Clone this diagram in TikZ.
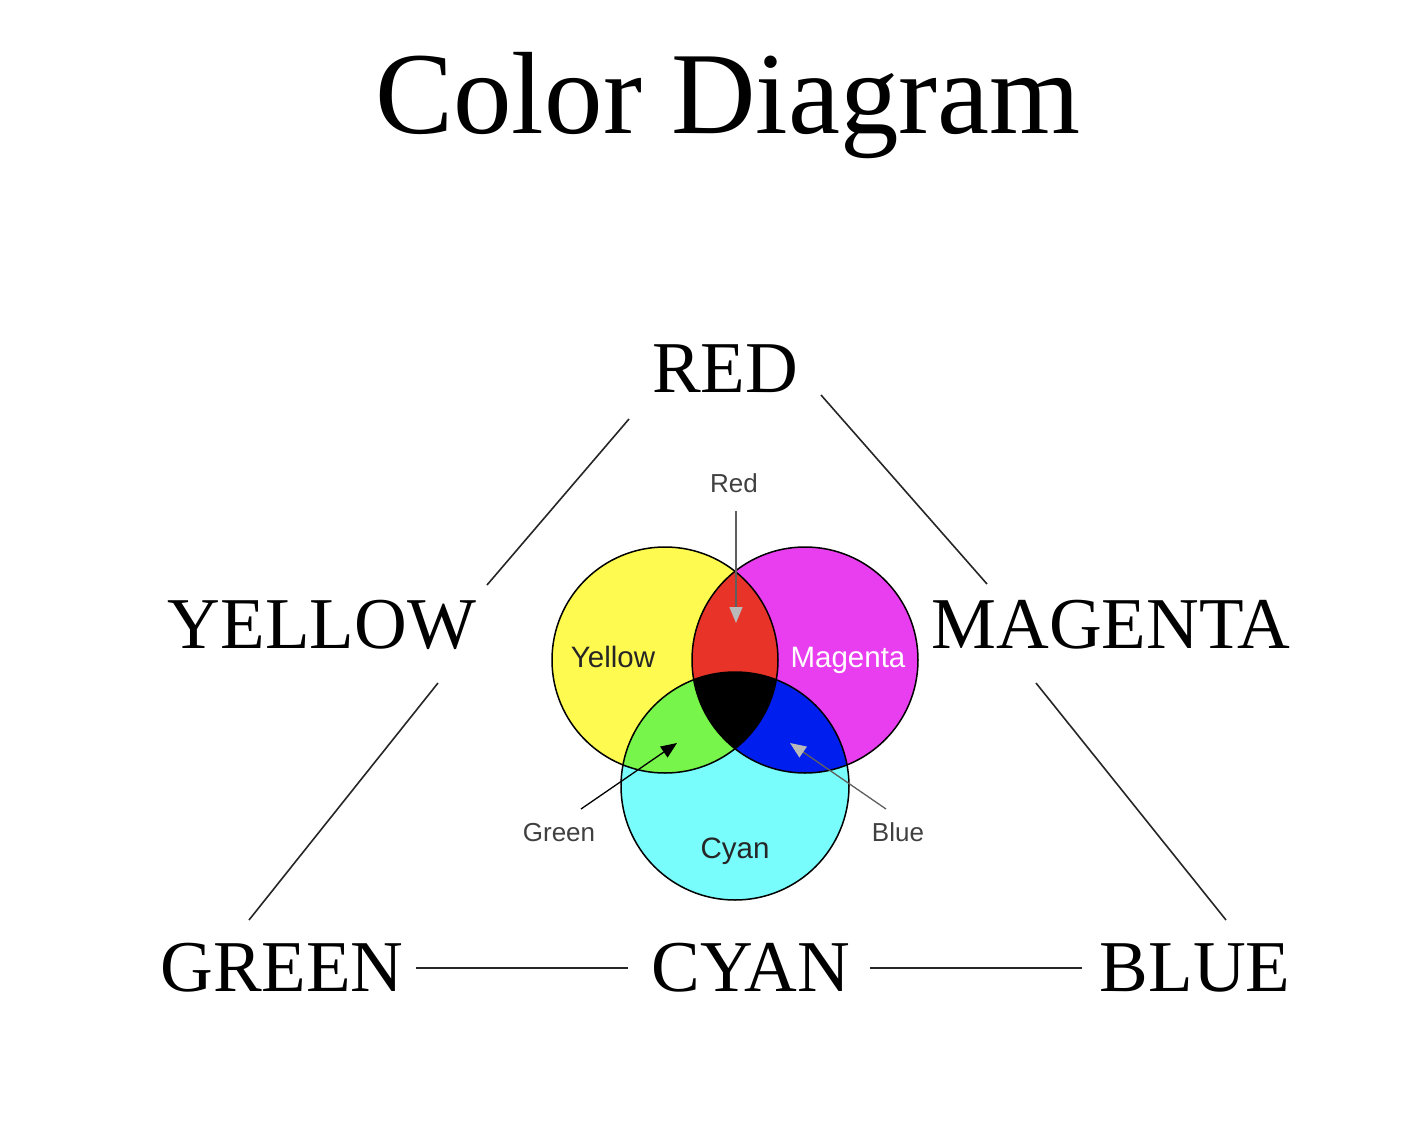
\documentclass[tikz,border=0pt]{standalone}
\usepackage{fontspec}
\setmainfont{Liberation Serif}
\newfontfamily\venn{Liberation Sans}
\usetikzlibrary{arrows.meta}
\definecolor{cyel}{RGB}{255,250,80}
\definecolor{cmag}{RGB}{232,62,240}
\definecolor{ccya}{RGB}{120,252,252}
\definecolor{cred}{RGB}{232,52,40}
\definecolor{cgrn}{RGB}{120,245,74}
\definecolor{cblu}{RGB}{0,30,238}
\definecolor{lgray}{RGB}{185,185,185}
\definecolor{dgray}{RGB}{95,95,95}
\tikzset{
  big/.style={font=\fontsize{73}{80}\selectfont, anchor=base, inner sep=0pt},
  title/.style={font=\fontsize{117}{125}\selectfont, anchor=base, inner sep=0pt},
  inlabel/.style={font=\venn\fontsize{29.5}{31}\selectfont, anchor=base, inner sep=0pt, text=black!85},
  outlabel/.style={font=\venn\fontsize{26}{28}\selectfont, anchor=base, inner sep=0pt, text=black!75},
  link/.style={line width=1.6pt, black!85},
  ring/.style={line width=1.5pt, black}
}
\begin{document}
\begin{tikzpicture}[x=1pt,y=-1pt]
\useasboundingbox (0,0) rectangle (1428,1146);
% title
\node[title] (ttl) at (728,133) {Color Diagram};
% big labels
\node[big] (RED) at (725,392) {RED};
\node[big] (YELLOW) at (322,648) {YELLOW};
\node[big] (MAGENTA) at (1111,648) {MAGENTA};
\node[big] (GREEN) at (282,991) {GREEN};
\node[big] (CYAN) at (751,991) {CYAN};
\node[big] (BLUE) at (1195,991) {BLUE};
% connector end points
\coordinate (ry1) at (629,419); \coordinate (ry2) at (487,585);
\coordinate (rm1) at (821,395); \coordinate (rm2) at (987,584);
\coordinate (yg1) at (438,683); \coordinate (yg2) at (249,920);
\coordinate (mb1) at (1036,683); \coordinate (mb2) at (1226,920);
\coordinate (gc1) at (416,968); \coordinate (gc2) at (628,968);
\coordinate (cb1) at (870,968); \coordinate (cb2) at (1082,968);
\draw[link] (ry1) -- (ry2);
\draw[link] (rm1) -- (rm2);
\draw[link] (yg1) -- (yg2);
\draw[link] (mb1) -- (mb2);
\draw[link] (gc1) -- (gc2);
\draw[link] (cb1) -- (cb2);
% venn circles
\coordinate (cy) at (665,660);
\coordinate (cm) at (805,660);
\coordinate (cc) at (735,786);
\fill[cyel] (cy) circle[radius=113pt];
\fill[cmag] (cm) circle[radius=113pt];
\fill[ccya] (cc) circle[radius=114pt];
\begin{scope}
  \clip (cy) circle[radius=113pt];
  \fill[cred] (cm) circle[radius=113pt];
  \fill[cgrn] (cc) circle[radius=114pt];
\end{scope}
\begin{scope}
  \clip (cm) circle[radius=113pt];
  \fill[cblu] (cc) circle[radius=114pt];
  \clip (cy) circle[radius=113pt];
  \fill[black] (cc) circle[radius=114pt];
\end{scope}
\draw[ring] (cy) circle[radius=113pt];
\draw[ring] (cm) circle[radius=113pt];
\draw[ring] (cc) circle[radius=114pt];
% venn labels
\node[inlabel] (lyel) at (613,667) {Yellow};
\node[inlabel, text=white] (lmag) at (848,667) {Magenta};
\node[inlabel] (lcya) at (735,858) {Cyan};
\node[outlabel] (lred) at (734,492) {Red};
\node[outlabel] (lgrn) at (559,841) {Green};
\node[outlabel] (lblu) at (898,841) {Blue};
% arrows
\coordinate (ar1) at (736,511); \coordinate (ar2) at (736,623);
\coordinate (ag1) at (581,809); \coordinate (ag2) at (677,743);
\coordinate (ab1) at (886,809); \coordinate (ab2) at (790,743);
\draw[line width=1.3pt, dgray, -{Triangle[length=16pt,width=13pt,fill=lgray,color=lgray]}] (ar1) -- (ar2);
\draw[line width=1.3pt, black, -{Triangle[length=16pt,width=13pt]}] (ag1) -- (ag2);
\draw[line width=1.3pt, dgray, -{Triangle[length=16pt,width=13pt,fill=lgray,color=lgray]}] (ab1) -- (ab2);
\end{tikzpicture}
\end{document}
